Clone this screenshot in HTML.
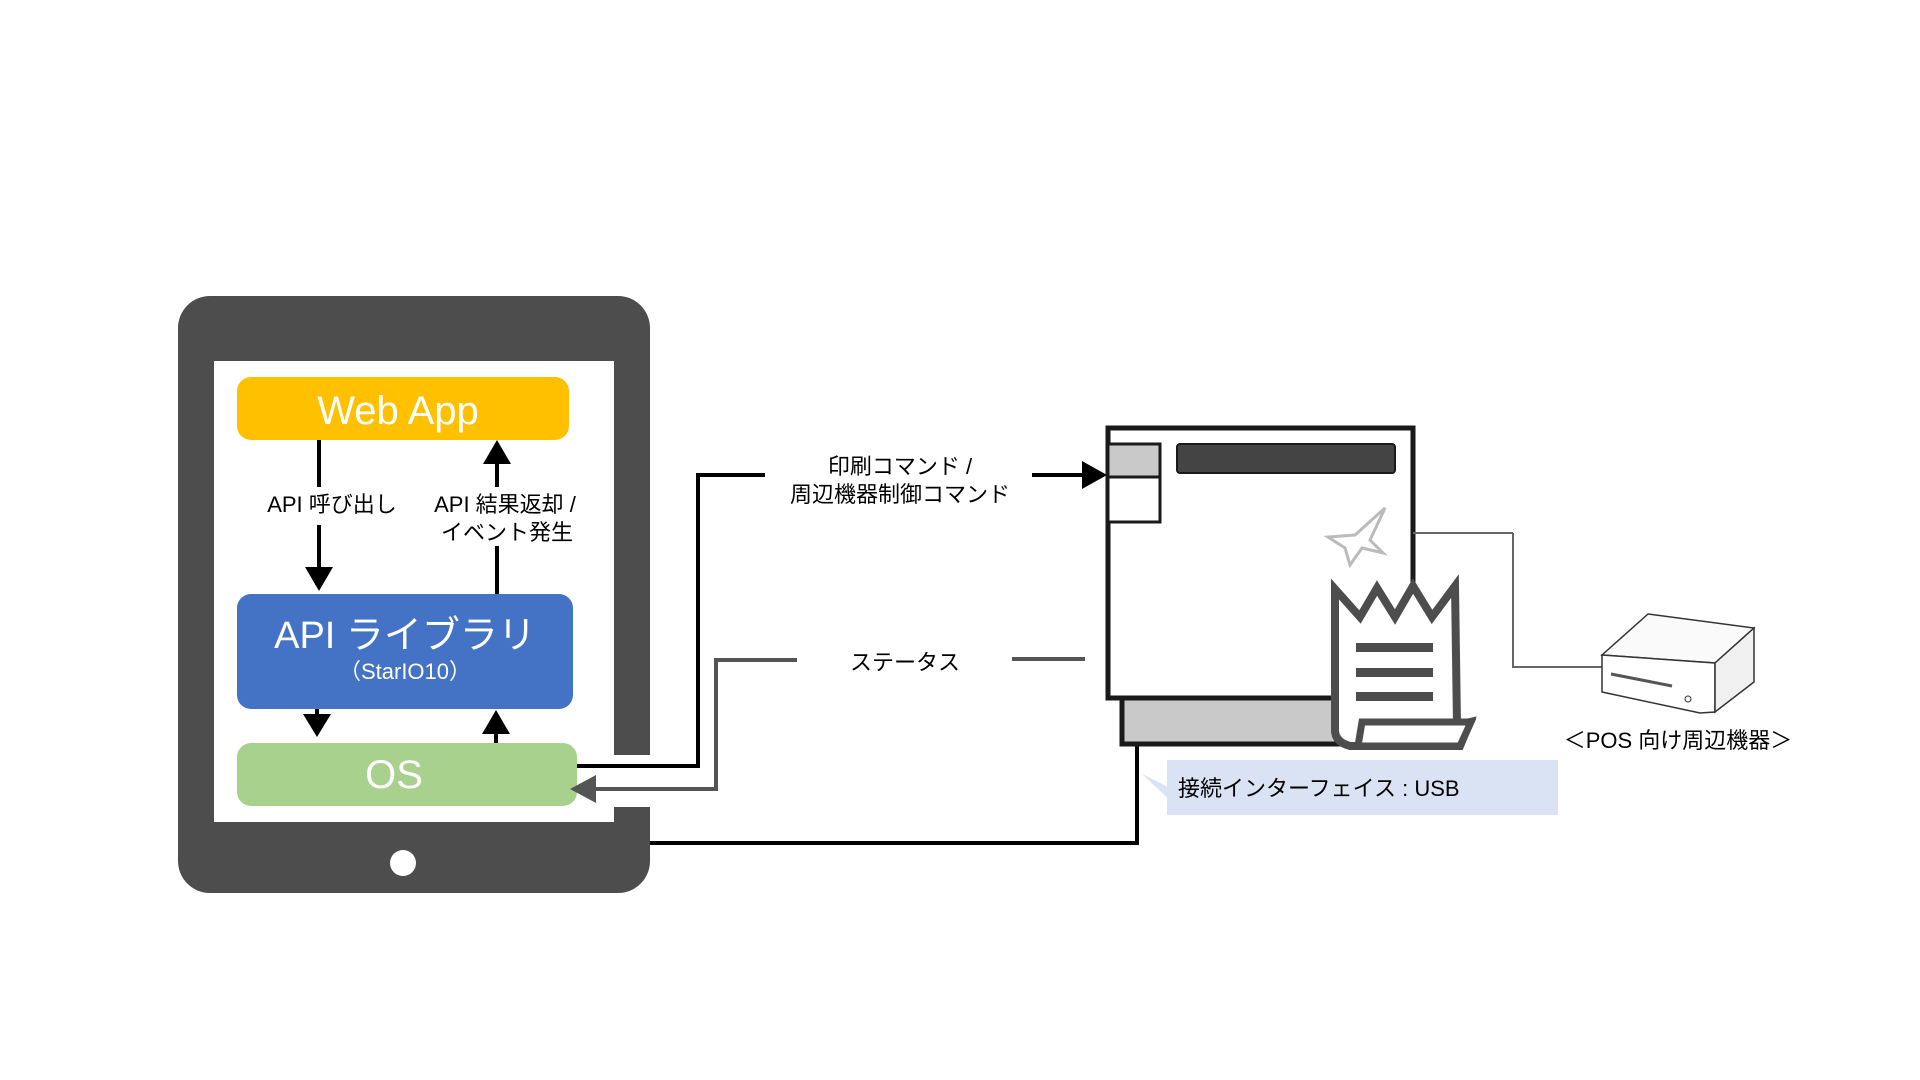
<!DOCTYPE html>
<html><head><meta charset="utf-8"><style>
html,body{margin:0;padding:0;background:#fff;}
svg{display:block;}
text{font-family:"Liberation Sans","Noto Sans CJK JP",sans-serif;}
</style></head><body>
<svg width="1920" height="1080" viewBox="0 0 1920 1080" xmlns="http://www.w3.org/2000/svg">
<rect width="1920" height="1080" fill="#fff"/>
<!-- tablet -->
<rect x="178" y="296" width="472" height="597" rx="32" fill="#4d4d4d"/>
<rect x="214" y="361" width="400" height="461" fill="#fff"/>
<rect x="614" y="755" width="40" height="52" fill="#fff"/>
<circle cx="403" cy="863" r="13" fill="#fff"/>
<!-- boxes -->
<rect x="237" y="377" width="332" height="63" rx="14" fill="#FFC000"/>
<text x="398" y="424" font-size="40" fill="#fff" text-anchor="middle">Web App</text>
<rect x="237" y="594" width="336" height="115" rx="14" fill="#4472C4"/>
<text x="405" y="648" font-size="38" fill="#fff" text-anchor="middle">API ライブラリ</text>
<text x="405" y="679" font-size="22" fill="#fff" text-anchor="middle">（StarIO10）</text>
<rect x="237" y="743" width="340" height="63" rx="14" fill="#A9D18E"/>
<text x="394" y="788" font-size="40" fill="#fff" text-anchor="middle">OS</text>
<!-- internal arrows -->
<g stroke="#000" stroke-width="4">
<line x1="319" y1="440" x2="319" y2="487"/>
<line x1="319" y1="525" x2="319" y2="570"/>
<line x1="497" y1="462" x2="497" y2="487"/>
<line x1="497" y1="546" x2="497" y2="594"/>
<line x1="317" y1="709" x2="317" y2="718"/>
<line x1="496" y1="728" x2="496" y2="743"/>
</g>
<polygon points="305,567 333,567 319,591" fill="#000"/>
<polygon points="483,464 511,464 497,440" fill="#000"/>
<polygon points="303,714 331,714 317,737" fill="#000"/>
<polygon points="482,734 510,734 496,710" fill="#000"/>
<text x="332" y="512" font-size="22" fill="#000" text-anchor="middle">API 呼び出し</text>
<text x="505" y="512" font-size="22" fill="#000" text-anchor="middle">API 結果返却 /</text>
<text x="507" y="540" font-size="22" fill="#000" text-anchor="middle">イベント発生</text>
<!-- connectors -->
<polyline points="577,766 698,766 698,475 765,475" fill="none" stroke="#000" stroke-width="4"/>
<line x1="1032" y1="475" x2="1085" y2="475" stroke="#000" stroke-width="4"/>
<polygon points="1082,461 1107,475 1082,489" fill="#000"/>
<text x="900" y="474" font-size="22" text-anchor="middle">印刷コマンド /</text>
<text x="900" y="502" font-size="22" text-anchor="middle">周辺機器制御コマンド</text>
<polyline points="594,789 716,789 716,660 797,660" fill="none" stroke="#555" stroke-width="4"/>
<line x1="1012" y1="659" x2="1085" y2="659" stroke="#555" stroke-width="4"/>
<polygon points="596,775 570,789 596,803" fill="#555"/>
<text x="905" y="670" font-size="22" text-anchor="middle">ステータス</text>
<polyline points="650,843 1137,843 1137,744" fill="none" stroke="#000" stroke-width="4"/>
<!-- printer -->
<rect x="1122" y="698" width="230" height="46" fill="#c9c9c9" stroke="#1a1a1a" stroke-width="5"/>
<rect x="1108" y="428" width="305" height="270" fill="#fff" stroke="#1a1a1a" stroke-width="5"/>
<rect x="1108" y="444" width="52" height="33" fill="#c9c9c9" stroke="#1a1a1a" stroke-width="3"/>
<rect x="1108" y="477" width="52" height="45" fill="#fff" stroke="#1a1a1a" stroke-width="3"/>
<rect x="1177" y="444" width="218" height="29" rx="3" fill="#444" stroke="#1a1a1a" stroke-width="2"/>
<polygon points="1385,508 1355,535 1328,537 1345,548 1350,565 1362,548 1383,553 1370,540" fill="none" stroke="#bbb" stroke-width="3"/>
<line x1="1413" y1="533" x2="1513" y2="533" stroke="#666" stroke-width="2"/>
<polyline points="1513,533 1513,667 1611,667" fill="none" stroke="#666" stroke-width="2"/>
<!-- receipt -->
<path d="M1335,589 L1360,617 L1377,588 L1395,617 L1413,586 L1432,617 L1455,586 L1457,725 L1470,722 L1460,746 L1350,746 Q1335,742 1335,730 Z" fill="#fff" stroke="#4d4d4d" stroke-width="8" stroke-linejoin="miter"/>
<polygon points="1362,722 1471,722 1460,746 1358,746" fill="#fff" stroke="#4d4d4d" stroke-width="7"/>
<rect x="1356" y="643" width="77" height="9" fill="#4d4d4d"/>
<rect x="1356" y="668" width="77" height="9" fill="#4d4d4d"/>
<rect x="1356" y="692" width="77" height="9" fill="#4d4d4d"/>
<!-- POS device -->
<polygon points="1602,655 1648,614 1754,628 1715,663" fill="#fafafa" stroke="#333" stroke-width="1.5"/>
<polygon points="1602,655 1715,663 1715,712 1700,713 1602,692" fill="#fff" stroke="#333" stroke-width="1.5"/>
<polygon points="1715,663 1754,628 1754,682 1715,712" fill="#f0f0f0" stroke="#333" stroke-width="1.5"/>
<line x1="1611" y1="674" x2="1672" y2="686" stroke="#555" stroke-width="3"/>
<circle cx="1688" cy="699" r="3" fill="none" stroke="#333"/>
<text x="1678" y="748" font-size="22" text-anchor="middle">＜POS 向け周辺機器＞</text>
<!-- USB callout -->
<polygon points="1142,774 1170,788 1170,800" fill="#DAE3F3"/>
<rect x="1167" y="760" width="391" height="55" fill="#DAE3F3"/>
<text x="1178" y="796" font-size="22">接続インターフェイス : USB</text>
</svg>
</body></html>
